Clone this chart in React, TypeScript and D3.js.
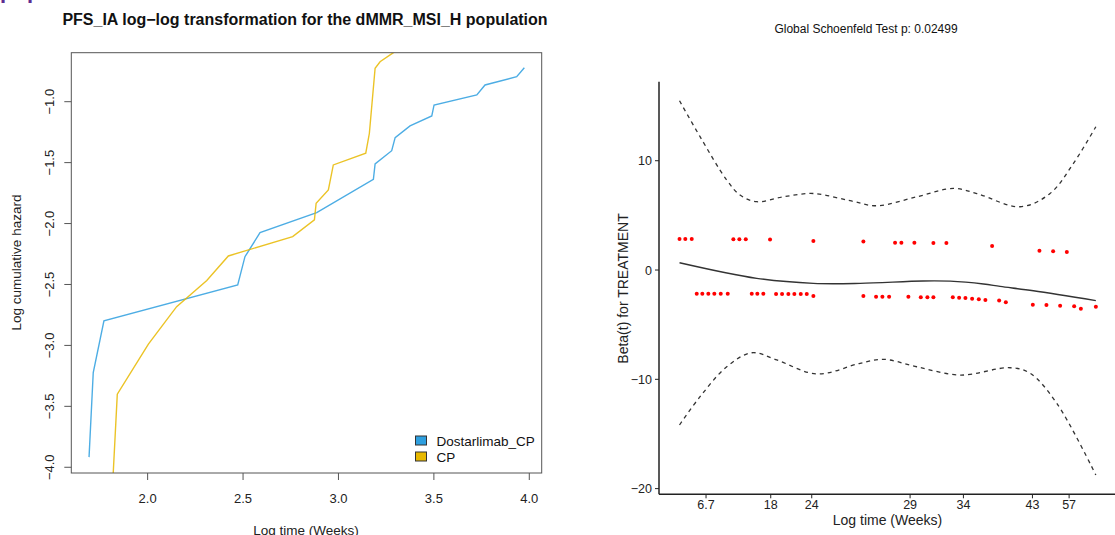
import React from 'react';
import * as d3 from 'd3';

const W = 1115;
const H = 535;
const FONT = '"Liberation Sans", Arial, Helvetica, sans-serif';

// ---- Log-log panel data (log time in weeks vs log cumulative hazard) ----
const dostarlimabLogTime = [1.693, 1.715, 1.771, 2.472, 2.51, 2.589, 2.886, 3.183, 3.192, 3.279, 3.297, 3.375, 3.489, 3.501, 3.725, 3.768, 3.934, 3.974];
const dostarlimabLogHaz = [-3.917, -3.223, -2.799, -2.504, -2.272, -2.075, -1.911, -1.637, -1.511, -1.402, -1.295, -1.199, -1.117, -1.027, -0.945, -0.863, -0.795, -0.721];
const cpLogTime = [1.818, 1.841, 2.004, 2.152, 2.31, 2.423, 2.76, 2.874, 2.883, 2.947, 2.973, 3.143, 3.162, 3.192, 3.218, 3.288, 3.31];
const cpLogHaz = [-4.1, -3.4, -2.99, -2.682, -2.468, -2.266, -2.107, -1.97, -1.833, -1.724, -1.519, -1.423, -1.259, -0.726, -0.672, -0.598, -0.57];

const groupNames = ['Dostarlimab_CP', 'CP'];
const groupColors = ['#2E9FDF', '#E7B800'];
const logLogXTicks = [2.0, 2.5, 3.0, 3.5, 4.0];
const logLogYTicks = [-1.0, -1.5, -2.0, -2.5, -3.0, -3.5, -4.0];

// ---- Schoenfeld residual panel (transformed time, 0..100) ----
const residUpperTime = [0, 1.39, 2.93, 12.93, 14.37, 15.91, 21.74, 32.15, 44.16, 51.77, 53.29, 56.41, 60.98, 64.1, 75.08, 86.45, 89.74, 93.03];
const residUpperBeta = [2.84, 2.84, 2.84, 2.82, 2.82, 2.82, 2.8, 2.65, 2.6, 2.5, 2.5, 2.5, 2.48, 2.48, 2.2, 1.76, 1.71, 1.65];
const residLowerTime = [4.13, 5.48, 6.92, 8.36, 9.9, 11.58, 17.35, 18.69, 20.13, 23.19, 24.63, 26.14, 27.58, 29.12, 30.56, 32.15, 44.16, 47.21, 48.73, 50.34, 54.97, 57.95, 59.54, 60.98, 65.64, 67.16, 68.67, 70.28, 71.89, 73.47, 76.77, 78.38, 84.86, 88.13, 91.42, 94.79, 96.4, 100];
const residLowerBeta = [-2.17, -2.17, -2.17, -2.17, -2.17, -2.17, -2.17, -2.17, -2.17, -2.2, -2.2, -2.2, -2.2, -2.2, -2.2, -2.38, -2.38, -2.44, -2.44, -2.44, -2.44, -2.5, -2.5, -2.5, -2.5, -2.53, -2.57, -2.62, -2.68, -2.75, -2.8, -2.96, -3.17, -3.2, -3.26, -3.32, -3.54, -3.35];

const smoothTime = [0, 18.55, 32.15, 43.37, 58.5, 65.0, 73.0, 77.0, 85.0, 100];
const smoothBeta = [0.67, -0.76, -1.22, -1.22, -1.0, -1.02, -1.28, -1.5, -1.9, -2.8];
const upperBandTime = [0, 4.93, 11.34, 14.54, 18.55, 24.94, 32.15, 40.97, 47.38, 56.99, 65.79, 71.41, 81.81, 89.0, 94.62, 100];
const upperBandBeta = [15.49, 12.2, 8.23, 6.86, 6.25, 6.7, 7.0, 6.34, 5.88, 6.7, 7.47, 7.0, 5.79, 7.0, 9.76, 13.11];
const lowerBandTime = [0, 4.93, 11.34, 17.35, 23.35, 32.97, 43.37, 48.97, 56.99, 67.4, 79.41, 84.22, 90.63, 100];
const lowerBandBeta = [-14.18, -11.59, -8.85, -7.57, -8.23, -9.51, -8.54, -8.17, -8.85, -9.61, -8.94, -9.45, -12.2, -18.76];

const zphTickPos = [6.37, 21.91, 31.76, 55.38, 68.19, 84.77, 93.58];
const zphTickLabels = ['6.7', '18', '24', '29', '34', '43', '57'];
const zphYTicks = [10, 0, -10, -20];

const fmtMinus = (s: string) => s.replace('-', '\u2212');
const zip = (a: number[], b: number[]) => a.map((v, i) => [v, b[i]] as [number, number]);

export default function App() {
  // Left panel geometry
  const L = { left: 71.3, right: 541.7, top: 52.7, bottom: 473 };
  const lx = d3.scaleLinear().domain([1.6, 4.065]).range([L.left, L.right]);
  const ly = d3.scaleLinear().domain([-4.047, -0.598]).range([L.bottom, L.top]);
  const lLine = d3.line<[number, number]>().x((d) => lx(d[0])).y((d) => ly(d[1]));

  // Right panel geometry
  const R = { left: 659, right: 1115, top: 81.7, bottom: 494.3 };
  const rx = d3.scaleLinear().domain([-4.93, 104.6]).range([R.left, R.right]);
  const ry = d3.scaleLinear().domain([-20.52, 17.23]).range([R.bottom, R.top]);
  const rLine = d3
    .line<[number, number]>()
    .x((d) => rx(d[0]))
    .y((d) => ry(d[1]))
    .curve(d3.curveCatmullRom.alpha(0.5));

  const series = [zip(dostarlimabLogTime, dostarlimabLogHaz), zip(cpLogTime, cpLogHaz)];

  return (
    <svg
      width={W}
      height={H}
      viewBox={`0 0 ${W} ${H}`}
      style={{ position: 'absolute', left: 0, top: 0, background: '#fff', fontFamily: FONT }}
    >
      <rect x={0} y={0} width={W} height={H} fill="#fff" />
      <defs>
        <clipPath id="loglogClip">
          <rect x={L.left} y={L.top} width={L.right - L.left} height={L.bottom - L.top} />
        </clipPath>
      </defs>

      {/* page heading fragment */}
      <text x={0} y={-2} fontSize={22} fontWeight="bold" fill="#5C2D91">
        population
      </text>

      {/* ===== Left: log-log plot ===== */}
      <text x={305} y={24.5} textAnchor="middle" fontSize={16} fontWeight="bold" fill="#111">
        PFS_IA log{'\u2212'}log transformation for the dMMR_MSI_H population
      </text>
      <g clipPath="url(#loglogClip)">
        {series.map((s, i) => (
          <path key={groupNames[i]} d={lLine(s) || ''} fill="none" stroke={groupColors[i]} strokeWidth={1.4} strokeOpacity={0.85} />
        ))}
      </g>
      <rect
        x={L.left}
        y={L.top}
        width={L.right - L.left}
        height={L.bottom - L.top}
        fill="none"
        stroke="#555"
        strokeWidth={1}
      />
      {logLogYTicks.map((t) => (
        <g key={`ly${t}`}>
          <line x1={L.left - 7} x2={L.left} y1={ly(t)} y2={ly(t)} stroke="#555" />
          <text
            x={54}
            y={ly(t)}
            transform={`rotate(-90, 54, ${ly(t)})`}
            textAnchor="middle"
            fontSize={13}
            fill="#222"
          >
            {fmtMinus(t.toFixed(1))}
          </text>
        </g>
      ))}
      {logLogXTicks.map((t) => (
        <g key={`lx${t}`}>
          <line x1={lx(t)} x2={lx(t)} y1={L.bottom} y2={L.bottom + 7} stroke="#555" />
          <text x={lx(t)} y={503} textAnchor="middle" fontSize={13} fill="#222">
            {t.toFixed(1)}
          </text>
        </g>
      ))}
      <text x={21} y={262.5} transform="rotate(-90, 21, 262.5)" textAnchor="middle" fontSize={13.5} fill="#222">
        Log cumulative hazard
      </text>
      <text x={306} y={534.5} textAnchor="middle" fontSize={13.5} fill="#222">
        Log time (Weeks)
      </text>
      {/* legend */}
      {groupNames.map((g, i) => (
        <g key={`lg${g}`}>
          <rect x={415.5} y={436 + i * 16} width={11} height={9} fill={groupColors[i]} stroke="#333" strokeWidth={1} />
          <text x={436.5} y={446 + i * 16} fontSize={13.5} fill="#111">
            {g}
          </text>
        </g>
      ))}

      {/* ===== Right: Schoenfeld residuals ===== */}
      <text x={866} y={33.3} textAnchor="middle" fontSize={12} fill="#111">
        Global Schoenfeld Test p: 0.02499
      </text>
      <path d={rLine(zip(upperBandTime, upperBandBeta)) || ''} fill="none" stroke="#333" strokeWidth={1.3} strokeDasharray="4,4" />
      <path d={rLine(zip(lowerBandTime, lowerBandBeta)) || ''} fill="none" stroke="#333" strokeWidth={1.3} strokeDasharray="4,4" />
      <path d={rLine(zip(smoothTime, smoothBeta)) || ''} fill="none" stroke="#333" strokeWidth={1.4} />
      {zip(residUpperTime, residUpperBeta).map((d, i) => (
        <circle key={`ru${i}`} cx={rx(d[0])} cy={ry(d[1])} r={2} fill="#FF0000" />
      ))}
      {zip(residLowerTime, residLowerBeta).map((d, i) => (
        <circle key={`rl${i}`} cx={rx(d[0])} cy={ry(d[1])} r={2} fill="#FF0000" />
      ))}
      <line x1={R.left} x2={R.left} y1={R.top} y2={R.bottom} stroke="#222" strokeWidth={1.5} />
      <line x1={R.left} x2={R.right} y1={R.bottom} y2={R.bottom} stroke="#222" strokeWidth={1.5} />
      {zphYTicks.map((t) => (
        <g key={`ry${t}`}>
          <line x1={R.left - 4} x2={R.left} y1={ry(t)} y2={ry(t)} stroke="#222" />
          <text x={652} y={ry(t) + 4.5} textAnchor="end" fontSize={12.5} fill="#222">
            {fmtMinus(String(t))}
          </text>
        </g>
      ))}
      {zphTickPos.map((p, i) => (
        <g key={`rx${i}`}>
          <line x1={rx(p)} x2={rx(p)} y1={R.bottom} y2={R.bottom + 4} stroke="#222" />
          <text x={rx(p)} y={509} textAnchor="middle" fontSize={12.5} fill="#222">
            {zphTickLabels[i]}
          </text>
        </g>
      ))}
      <text x={887.5} y={525} textAnchor="middle" fontSize={14} fill="#222">
        Log time (Weeks)
      </text>
      <text x={628} y={288.5} transform="rotate(-90, 628, 288.5)" textAnchor="middle" fontSize={14} fill="#222">
        Beta(t) for TREATMENT
      </text>
    </svg>
  );
}
